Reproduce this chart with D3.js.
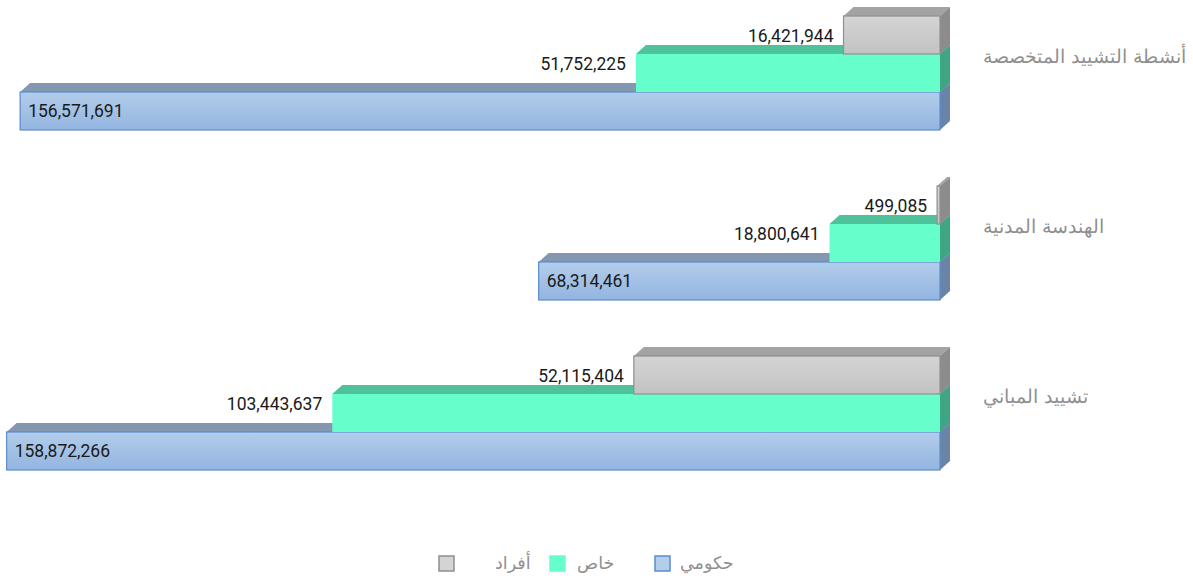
<!DOCTYPE html>
<html>
<head>
<meta charset="utf-8">
<script src="https://cdn.jsdelivr.net/npm/d3@7"></script>
<style>
    html, body { margin: 0; padding: 0; background: #fff; }
    #chart { width: 1193px; height: 580px; }
</style>
</head>
<body>
<svg id="chart" width="1193" height="580"></svg>
<script>
// categories top to bottom
const categories = ['أنشطة التشييد المتخصصة', 'الهندسة المدنية', 'تشييد المباني'];

// series, in drawing order (bottom bar first)
const seriesNames = ['حكومي', 'خاص', 'أفراد'];
const government = [156571691, 68314461, 158872266];
const privateSector = [51752225, 18800641, 103443637];
const individuals = [16421944, 499085, 52115404];

const seriesValues = [government, privateSector, individuals];

const svg = d3.select('#chart');
const depthX = 10, depthY = 9;

const x = d3.scaleLinear().domain([0, 160000000]).range([940, 0]);
const y0 = d3.scaleBand().domain(categories).range([16, 470]).paddingInner(56 / 170);
// within a group: individuals on top, government at the bottom
const y1 = d3.scaleBand().domain(seriesNames.slice().reverse()).range([0, y0.bandwidth()]);

const styles = {
    'حكومي': {top: '#b3cdeb', bottom: '#93b5e0', roof: '#8497b0', side: '#6a84a8', stroke: '#5a8ccc'},
    'خاص': {top: '#66ffcc', bottom: '#66ffcc', roof: '#4dc29b', side: '#40a584', stroke: 'none'},
    'أفراد': {top: '#d4d4d4', bottom: '#c2c2c2', roof: '#a3a3a3', side: '#8c8c8c', stroke: '#8f8f8f'}
};

const defs = svg.append('defs');
seriesNames.forEach((s, i) => {
    const g = defs.append('linearGradient').attr('id', 'grad' + i)
        .attr('x1', 0).attr('y1', 0).attr('x2', 0).attr('y2', 1);
    g.append('stop').attr('offset', '0%').attr('stop-color', styles[s].top);
    g.append('stop').attr('offset', '100%').attr('stop-color', styles[s].bottom);
});

const bars = [];
seriesNames.forEach((s, i) => {
    categories.forEach((c, j) => {
        bars.push({series: s, si: i, cat: c, value: seriesValues[i][j]});
    });
});

const barG = svg.append('g');
bars.forEach(d => {
    const st = styles[d.series];
    const x0 = x(d.value), x1 = x(0);
    const yt = y0(d.cat) + y1(d.series), h = y1.bandwidth();
    const g = barG.append('g');
    // top face
    g.append('path')
        .attr('d', `M${x0},${yt} L${x0 + depthX},${yt - depthY} L${x1 + depthX},${yt - depthY} L${x1},${yt} Z`)
        .attr('fill', st.roof);
    // side face
    g.append('path')
        .attr('d', `M${x1},${yt} L${x1 + depthX},${yt - depthY} L${x1 + depthX},${yt + h - depthY} L${x1},${yt + h} Z`)
        .attr('fill', st.side);
    // front face
    g.append('rect')
        .attr('x', x0).attr('y', yt)
        .attr('width', x1 - x0).attr('height', h)
        .attr('fill', 'url(#grad' + d.si + ')')
        .attr('stroke', st.stroke).attr('stroke-width', 1.2);
});

// value labels
const labelFont = 'Roboto, "Liberation Sans", sans-serif';
svg.append('g').selectAll('text').data(bars).enter().append('text')
    .attr('x', d => d.series === 'حكومي' ? x(d.value) + 8 : x(d.value) - 10)
    .attr('y', d => {
        const c = y0(d.cat) + y1(d.series) + y1.bandwidth() / 2;
        if (d.series === 'خاص') return c - 9;
        if (d.series === 'أفراد') return c + 1;
        return c;
    })
    .attr('dy', '0.35em')
    .attr('text-anchor', d => d.series === 'حكومي' ? 'start' : 'end')
    .style('font-family', labelFont)
    .style('font-size', '17.5px')
    .attr('fill', '#1a1a1a')
    .text(d => d3.format(',')(d.value));

// category labels
svg.append('g').selectAll('text').data(categories).enter().append('text')
    .attr('x', 983)
    .attr('y', d => y0(d) + y0.bandwidth() / 2 - 16)
    .attr('dy', '0.35em')
    .attr('text-anchor', 'start')
    .style('font-family', '"DejaVu Sans", sans-serif')
    .style('font-size', '18.5px')
    .style('font-weight', 300)
    .attr('fill', '#8f8f8f')
    .text(d => d);

// legend, right to left
const legendItems = [
    {name: 'حكومي', sx: 655, tx: 680},
    {name: 'خاص', sx: 550, tx: 577},
    {name: 'أفراد', sx: 439, tx: 495}
];
const legend = svg.append('g');
legendItems.forEach(item => {
    const st = styles[item.name];
    legend.append('rect')
        .attr('x', item.sx).attr('y', 556).attr('width', 15).attr('height', 15)
        .attr('fill', st.top)
        .attr('stroke', st.stroke === 'none' ? st.top : st.stroke).attr('stroke-width', 1.5);
    legend.append('text')
        .attr('x', item.tx).attr('y', 563).attr('dy', '0.35em')
        .style('font-family', '"DejaVu Sans", sans-serif')
        .style('font-size', '17.5px')
        .attr('fill', '#8f8f8f')
        .text(item.name);
});
</script>
</body>
</html>
